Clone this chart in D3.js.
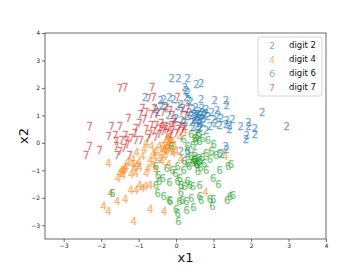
<!DOCTYPE html>
<html>
<head>
<style>
  body { margin: 0; background: #fff; }
  svg { display: block; font-family: "DejaVu Sans", sans-serif; }
</style>
</head>
<body>
<svg id="chart" width="363" height="273"></svg>
<script src="https://d3js.org/d3.v7.min.js"></script>
<script>
// points, [x1, x2]
var digit2 = [
  [-0.12,2.34],[0.06,2.34],[0.31,2.36],[0.54,2.13],[0.67,2.16],[0.23,2.0],[0.31,1.85],[0.26,1.92],
  [-0.83,1.65],[-0.33,1.58],[-0.18,1.65],[-0.07,1.58],[-0.42,1.55],[0.27,1.64],[0.38,1.49],[0.33,1.55],
  [0.67,1.58],[1.03,1.55],[1.33,1.53],[1.35,1.37],[-0.4,1.31],[-0.27,1.33],[-0.55,1.2],[0.04,1.31],
  [0.18,1.25],[0.12,1.4],[0.45,1.2],[0.5,1.05],[0.55,0.95],[0.6,1.15],[0.65,1.0],[0.7,0.9],
  [0.75,1.05],[0.48,0.85],[0.58,0.8],[0.68,1.25],[0.4,1.0],[0.35,1.1],[0.8,1.2],[0.52,1.3],
  [0.62,0.7],[0.72,0.75],[0.42,0.75],[0.3,0.95],[0.85,0.95],[0.55,0.6],[0.45,0.55],[0.65,0.55],
  [1.09,1.19],[1.12,1.0],[0.79,1.07],[0.95,1.1],[1.0,0.85],[2.3,1.09],[1.35,0.8],[1.5,0.85],
  [1.42,0.64],[1.33,0.68],[1.42,0.5],[1.16,0.64],[1.05,0.7],[1.72,0.6],[1.93,0.73],[1.93,0.6],
  [2.1,0.52],[2.1,0.3],[1.88,0.28],[1.86,0.12],[2.95,0.58],[0.8,0.46],[0.62,0.52],[0.2,0.75],
  [0.13,-0.33],[0.3,-0.39],[1.32,-0.15],[1.34,-0.24],[1.21,-0.41],[-0.5,1.1],[-0.2,1.0],
  [-0.05,0.85],[0.0,0.9],[0.15,0.8],[0.25,0.6],[0.9,0.6],[1.2,0.9],
  [0.57,1.02],[0.63,0.85],[0.5,0.92],[0.7,1.1]
];
var digit4 = [
  [-1.81,-0.75],[-1.5,-1.1],[-1.42,-1.2],[-1.38,-0.95],[-1.34,-0.88],[-1.45,-1.0],[-1.55,-1.3],
  [-1.2,-1.15],[-1.07,-1.1],[-1.18,-0.8],[-1.05,-0.84],[-0.98,-0.9],[-0.8,-1.1],[-0.75,-0.93],
  [-0.62,-0.82],[-0.54,-1.0],[-0.7,-0.65],[-0.58,-0.52],[-0.8,-0.02],[-0.66,-0.15],[-0.54,-0.33],
  [-0.4,-0.4],[-0.45,-0.6],[-0.45,-0.15],[-0.35,-0.1],[-0.27,0.05],[-0.22,0.15],[-0.18,0.22],
  [-0.13,-0.27],[-0.08,-0.39],[-0.25,-0.33],[-0.3,-0.2],[-0.2,-0.05],[-0.1,0.05],[-0.38,-0.69],
  [-0.2,-0.78],[0.13,-0.59],[-1.15,-0.6],[-0.98,-1.54],[-0.82,-1.6],[-0.9,-1.65],[-0.7,-1.55],
  [-1.21,-1.75],[-1.07,-1.72],[-1.75,-1.84],[-1.57,-2.15],[-1.36,-2.05],[-1.94,-2.33],[-1.81,-2.51],
  [-0.69,-2.42],[-0.32,-2.5],[-1.13,-2.87],[0.78,-1.82],[1.31,-0.51],[0.22,0.4],[-1.0,-0.7],
  [-0.9,-0.5],[-0.6,-0.4],[-1.3,-0.7],[-0.3,-0.5],[0.0,-0.3],[-0.05,-0.1],[0.1,0.2],[-0.85,-0.25],
  [-1.05,-0.35],[-0.32,-0.28],[-0.22,-0.18],[-0.15,0.1],[-1.4,-1.05],[-1.12,-0.95]
];
var digit6 = [
  [-1.7,-1.84],[-0.54,-0.85],[-0.48,-1.2],[-0.36,-1.28],[-0.54,-1.54],[-0.45,-1.42],[-0.1,-1.0],
  [-0.02,-1.1],[0.04,-0.87],[-0.18,-1.45],[0.04,-1.42],[0.13,-1.54],[0.22,-1.6],[0.36,-1.54],
  [0.45,-1.6],[0.63,-1.54],[0.3,-1.4],[0.1,-1.3],[0.13,-1.82],[0.16,-2.09],[0.09,-2.15],[0.27,-2.15],
  [0.4,-2.03],[0.63,-1.97],[0.67,-2.09],[-0.49,-1.84],[-0.33,-1.96],[-0.18,-2.1],[-0.16,-2.15],
  [0.0,-2.42],[0.04,-2.57],[0.06,-2.85],[0.28,-2.45],[0.46,-2.36],[0.97,-2.33],[0.99,-2.06],
  [0.9,-2.06],[1.13,-1.5],[0.99,-1.3],[1.36,-2.1],[1.44,-1.96],[1.51,-1.9],[1.39,-0.87],[1.46,-0.79],
  [1.16,-1.0],[0.2,0.12],[0.31,-0.15],[0.45,-0.09],[0.56,0.22],[0.53,0.04],[0.7,0.16],[0.85,0.1],
  [1.0,-0.05],[0.4,0.3],[0.6,0.35],[0.3,-0.3],[0.4,-0.5],[0.5,-0.6],[0.6,-0.7],[0.7,-0.55],
  [0.8,-0.4],[0.55,-0.8],[0.65,-0.9],[0.75,-0.75],[0.9,-0.6],[0.45,-0.7],[0.5,-0.4],[0.35,-0.85],
  [0.22,-0.69],[0.31,-0.75],[0.47,-0.66],[0.54,-0.77],[0.63,-0.63],[0.94,-0.33],[1.06,-0.45],
  [1.16,-0.39],[-0.13,-0.15],[0.58,-1.05],[-0.25,-0.95],[0.2,-1.0],[0.8,-1.0],
  [0.52,-0.72],[0.58,-0.58],[0.5,0.15],[0.62,0.05]
];
var digit7 = [
  [-1.5,1.98],[-1.36,2.01],[-0.64,2.01],[-0.73,1.61],[-0.6,1.65],[0.04,1.65],[-0.9,1.25],
  [-0.95,1.05],[-0.8,1.1],[-0.66,1.05],[-0.52,1.05],[-0.58,1.25],[-0.27,1.25],[-0.16,1.19],
  [-0.35,1.1],[-0.1,1.0],[-1.27,0.88],[-2.31,0.58],[-1.72,0.6],[-1.5,0.6],[-0.98,0.7],[-1.07,0.52],
  [-0.8,0.5],[-0.66,0.65],[-0.53,0.65],[-0.45,0.5],[-1.8,0.22],[-1.62,0.28],[-1.45,0.1],[-1.32,0.1],
  [-1.2,0.15],[-1.07,0.1],[-0.94,0.1],[-1.6,0.05],[-1.35,0.28],[-2.31,-0.12],[-2.4,-0.45],
  [-2.04,-0.29],[-1.59,-0.12],[-1.57,-0.45],[-1.39,-0.2],[-1.24,-0.45],[-1.5,-0.3],[-1.3,-0.05],
  [-0.4,0.7],[-0.3,0.6],[-0.2,0.55],[-0.1,0.45],[0.05,0.5],[0.15,0.4],[-0.35,0.4],[-0.25,0.35],
  [-0.15,0.3],[0.0,0.35],[-0.45,0.3],[-0.6,0.4],[-0.7,0.3],[-0.75,0.15],[-0.55,0.2],[0.1,0.6],
  [0.2,0.55],[0.3,1.2],[0.25,1.0],[0.15,1.15],[-0.05,0.75],[-0.85,0.85],[-1.1,0.35],
  [-0.28,0.5],[-0.12,0.62],[-0.38,0.55]
];

var groups = [
  {digit: "2", label: "digit 2", color: "#1f77b4", pts: digit2},
  {digit: "4", label: "digit 4", color: "#ff7f0e", pts: digit4},
  {digit: "6", label: "digit 6", color: "#2ca02c", pts: digit6},
  {digit: "7", label: "digit 7", color: "#d62728", pts: digit7}
];
var xTicks = [-3, -2, -1, 0, 1, 2, 3, 4];
var yTicks = [-3, -2, -1, 0, 1, 2, 3, 4];

var svg = d3.select("#chart");
var margin = {left: 45, top: 33, right: 37, bottom: 34};
var w = 363 - margin.left - margin.right,
    h = 273 - margin.top - margin.bottom;

var x = d3.scaleLinear().domain([-3.5, 4]).range([0, w]);
var y = d3.scaleLinear().domain([-3.5, 4]).range([h, 0]);

var g = svg.append("g").attr("transform", "translate(" + margin.left + "," + margin.top + ")");

// points, digits as markers
groups.forEach(function(grp) {
  g.append("g").selectAll("text")
    .data(grp.pts)
    .enter().append("text")
    .attr("x", function(d) { return x(d[0]); })
    .attr("y", function(d) { return y(d[1]); })
    .attr("text-anchor", "middle")
    .attr("dominant-baseline", "central")
    .attr("font-size", 10)
    .attr("fill", grp.color)
    .attr("stroke", grp.color)
    .attr("stroke-width", 0.3)
    .attr("opacity", 0.6)
    .text(grp.digit);
});

// axes
var xAxis = g.append("g").attr("transform", "translate(0," + h + ")")
  .call(d3.axisBottom(x).tickValues(xTicks).tickSize(3).tickPadding(2).tickFormat(d3.format("d")));
var yAxis = g.append("g")
  .call(d3.axisLeft(y).tickValues(yTicks).tickSize(3).tickPadding(2).tickFormat(d3.format("d")));
[xAxis, yAxis].forEach(function(a) {
  a.select(".domain").remove();
  a.selectAll("text").attr("font-size", 6).attr("fill", "#222").attr("font-family", "DejaVu Sans")
    .text(function(d) { return d < 0 ? "\u2212" + Math.abs(d) : d; });
  a.selectAll("line").attr("stroke", "#333").attr("stroke-width", 0.7);
});

g.append("rect").attr("width", w).attr("height", h)
  .attr("fill", "none").attr("stroke", "#444").attr("stroke-width", 0.8);

// axis labels
svg.append("text").attr("x", margin.left + w / 2).attr("y", 262)
  .attr("text-anchor", "middle").attr("font-size", 13).attr("fill", "#111").text("x1");
svg.append("text").attr("transform", "translate(28," + (margin.top + h / 2) + ") rotate(-90)")
  .attr("text-anchor", "middle").attr("font-size", 13).attr("fill", "#111").text("x2");

// legend
var lg = svg.append("g").attr("transform", "translate(258,37)");
lg.append("rect").attr("width", 64).attr("height", 59).attr("rx", 2)
  .attr("fill", "#fff").attr("fill-opacity", 0.8).attr("stroke", "#ccc").attr("stroke-width", 0.8);
var items = lg.selectAll("g.item").data(groups).enter().append("g")
  .attr("transform", function(d, i) { return "translate(0," + (8 + i * 14) + ")"; });
items.append("text").attr("x", 14).attr("dominant-baseline", "central").attr("text-anchor", "middle")
  .attr("font-size", 9.5).attr("fill", function(d) { return d.color; }).attr("opacity", 0.6)
  .text(function(d) { return d.digit; });
items.append("text").attr("x", 31).attr("dominant-baseline", "central")
  .attr("font-size", 8.5).attr("fill", "#111").text(function(d) { return d.label; });
</script>
</body>
</html>
